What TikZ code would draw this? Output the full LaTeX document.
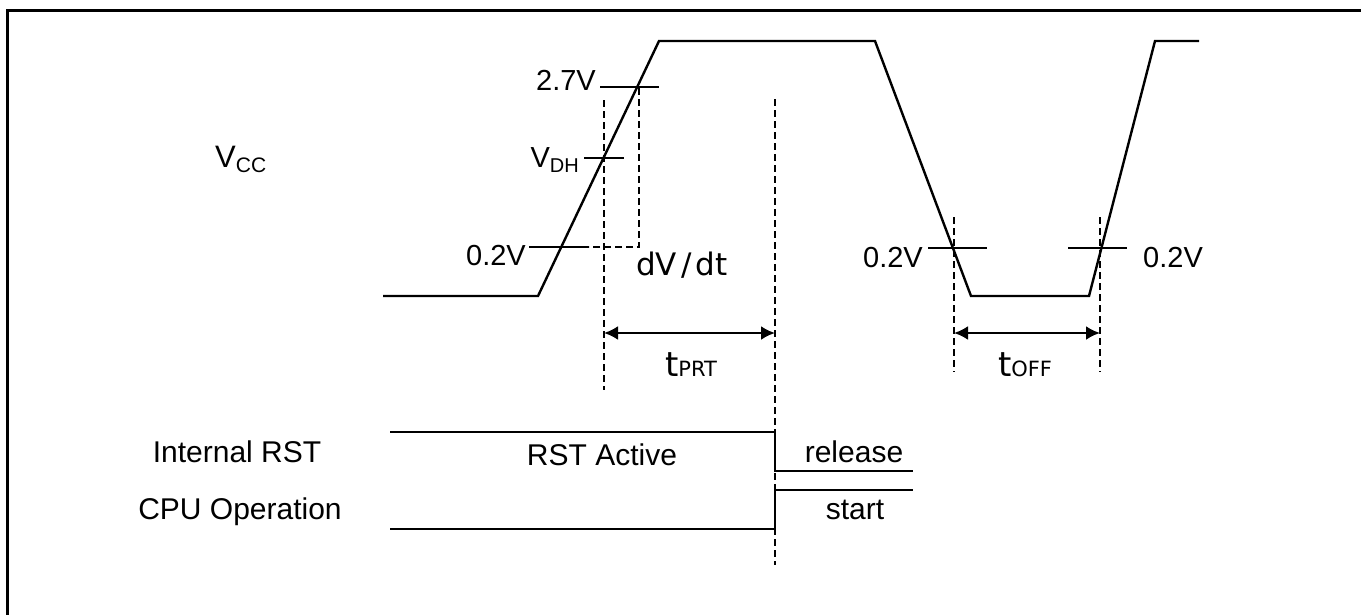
\documentclass[tikz,border=0pt]{standalone}
\usepackage{fontspec}
\setmainfont{Liberation Sans}
\newfontfamily\dvfont{DejaVu Sans}
\usetikzlibrary{arrows.meta}

\newcommand{\tsub}[1]{{\dvfont\fontsize{34}{38}\selectfont t\fontsize{21}{24}\selectfont #1}}

\tikzset{
  frameline/.style={line width=3pt},
  wave/.style={line width=2.4pt},
  guide/.style={line width=1.8pt, dash pattern=on 7pt off 4pt},
  tickmark/.style={line width=2.4pt},
  span/.style={line width=2.4pt, {Latex[length=14pt,width=14pt]}-{Latex[length=14pt,width=14pt]}},
  lbl/.style={inner sep=0pt, font=\fontsize{30}{34}\selectfont},
  volt/.style={inner sep=0pt, font=\fontsize{29}{33}\selectfont},
}

\begin{document}
\begin{tikzpicture}[x=1pt,y=-1pt]
  \useasboundingbox (0,0) rectangle (1361,614);
  \draw[frameline] (1370,10) -- (7,10) -- (7,625);

  % supply waveform
  \coordinate (v0) at (383,296);
  \coordinate (v1) at (538,296);
  \coordinate (v2) at (659,41);
  \coordinate (v3) at (875,41);
  \coordinate (v4) at (971,296);
  \coordinate (v5) at (1089,296);
  \coordinate (v6) at (1155,41);
  \coordinate (v7) at (1199,41);
  \draw[wave] (v0) -- (v1) -- (v2) -- (v3) -- (v4) -- (v5) -- (v6) -- (v7);

  \node[lbl, anchor=base west] (vcc) at (215,167)
    {\fontsize{31}{34}\selectfont V\raisebox{-5pt}{\fontsize{21}{21}\selectfont CC}};

  % level marks on the rising edge
  \draw[tickmark] (600,87) -- (659,87);
  \draw[tickmark] (584,158) -- (624,158);
  \draw[tickmark] (529,247) -- (589,247);
  \node[volt, anchor=base east] (lvhi) at (596,90) {2.7V};
  \node[volt, anchor=base east] (lvdh) at (579,167)
    {V\raisebox{-5pt}{\fontsize{20}{20}\selectfont DH}};
  \node[volt, anchor=base east] (lvlo) at (526,265) {0.2V};
  \node[anchor=base west, inner sep=0pt] (slope) at (636,275)
    {\dvfont\fontsize{31}{35}\selectfont dV\hspace{4pt}/\hspace{4pt}dt};

  % level marks on the falling / rising edge
  \draw[tickmark] (928,248) -- (987,248);
  \draw[tickmark] (1068,248) -- (1127,248);
  \node[volt, anchor=base east] (lvfall) at (923,267) {0.2V};
  \node[volt, anchor=base west] (lvrise) at (1143,267) {0.2V};

  % guides
  \coordinate (g1) at (604,100);
  \coordinate (g1b) at (604,390);
  \coordinate (g2) at (775,99);
  \coordinate (g2b) at (775,565);
  \coordinate (g3) at (954,217);
  \coordinate (g3b) at (954,372);
  \coordinate (g4) at (1100,217);
  \coordinate (g4b) at (1100,372);
  \draw[guide] (g1) -- (g1b);
  \draw[guide] (g2) -- (g2b);
  \draw[guide] (g3) -- (g3b);
  \draw[guide] (g4) -- (g4b);
  \draw[guide] (639,88) -- (639,247) -- (589,247);

  % timing spans
  \coordinate (prtL) at (604,333);
  \coordinate (prtR) at (775,333);
  \coordinate (offL) at (954,333);
  \coordinate (offR) at (1100,333);
  \draw[span] (prtL) -- (prtR);
  \draw[span] (offL) -- (offR);
  \node[anchor=base, inner sep=0pt] (tprt) at (691,376) {\tsub{PRT}};
  \node[anchor=base, inner sep=0pt] (toff) at (1025,376) {\tsub{OFF}};

  % reset and cpu
  \draw[wave] (390,432) -- (775,432) -- (775,471) -- (913,471);
  \draw[wave] (390,529) -- (775,529) -- (775,490) -- (913,490);
  \node[lbl, anchor=base] (rstname) at (237,462) {Internal RST};
  \node[lbl, anchor=base] (cpuname) at (240,519) {CPU Operation};
  \node[lbl, anchor=base] (rstact) at (602,465) {RST Active};
  \node[lbl, anchor=base] (rel) at (854,462) {release};
  \node[lbl, anchor=base] (go) at (855,519) {start};
\end{tikzpicture}
\end{document}
